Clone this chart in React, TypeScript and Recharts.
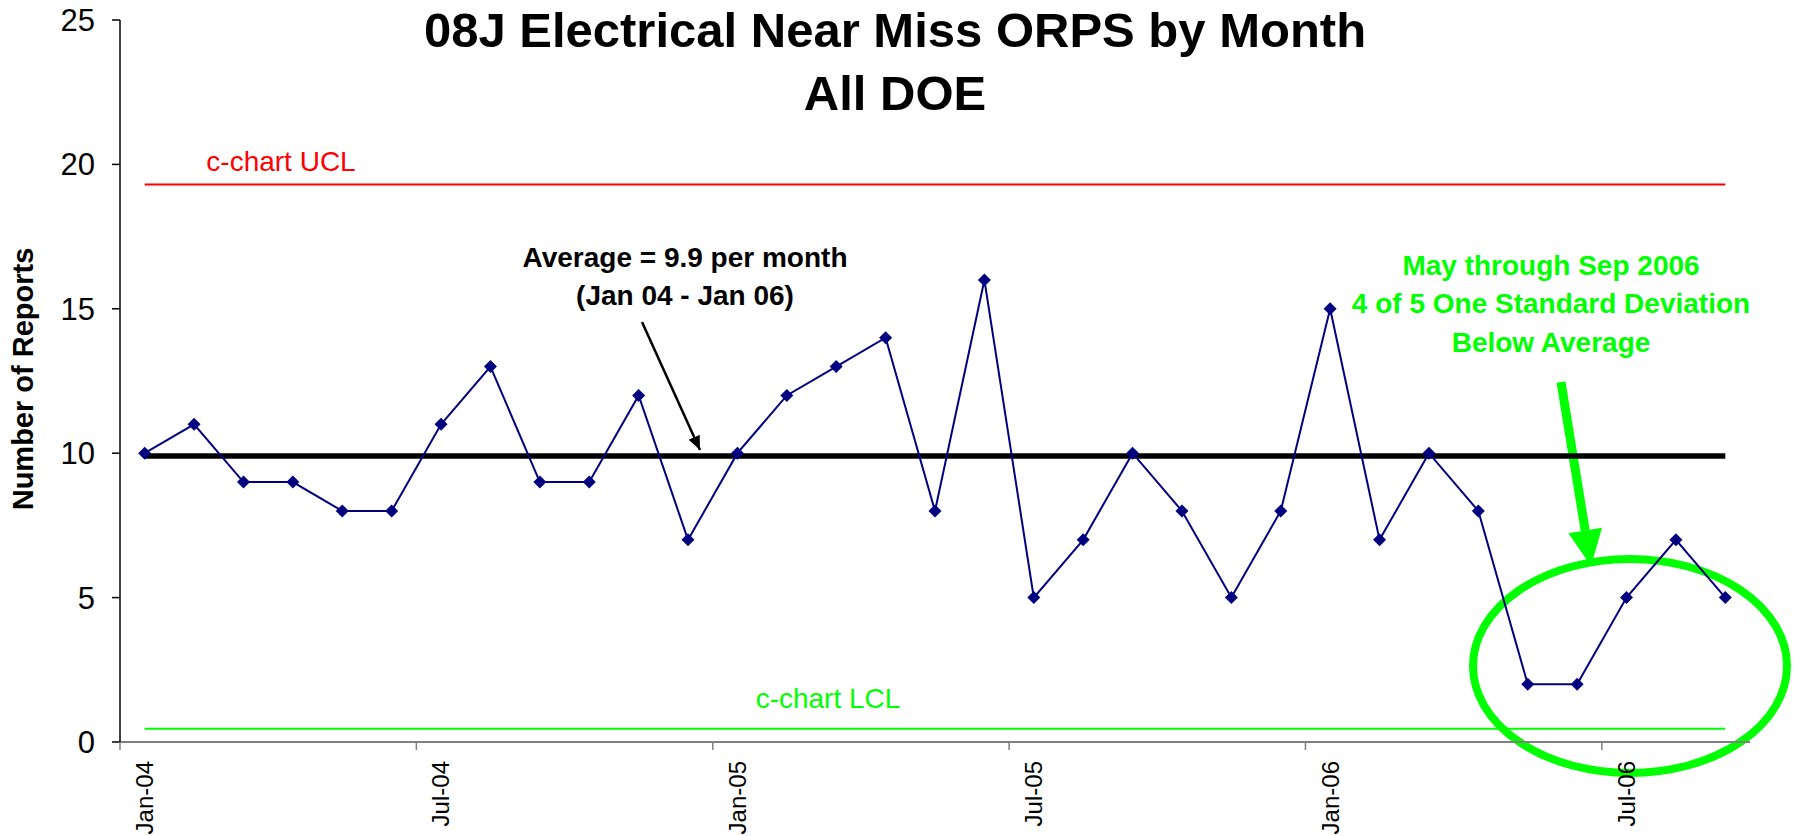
import React from "react";
import { ComposedChart, Line, XAxis, YAxis, Customized } from "recharts";

const months = [
  "Jan-04", "Feb-04", "Mar-04", "Apr-04", "May-04", "Jun-04",
  "Jul-04", "Aug-04", "Sep-04", "Oct-04", "Nov-04", "Dec-04",
  "Jan-05", "Feb-05", "Mar-05", "Apr-05", "May-05", "Jun-05",
  "Jul-05", "Aug-05", "Sep-05", "Oct-05", "Nov-05", "Dec-05",
  "Jan-06", "Feb-06", "Mar-06", "Apr-06", "May-06", "Jun-06",
  "Jul-06", "Aug-06", "Sep-06",
];
const reports = [
  10, 11, 9, 9, 8, 8, 11, 13, 9, 9, 12, 7,
  10, 12, 13, 14, 8, 16, 5, 7, 10, 8, 5, 8,
  15, 7, 10, 8, 2, 2, 5, 7, 5,
];
const ucl = 19.3;
const average = 9.9;
const lcl = 0.46;
const yTicks = [0, 5, 10, 15, 20, 25];

const data = months.map((month, i) => ({ month, reports: reports[i], ucl, average, lcl }));

const FONT = '"Liberation Sans", Arial, sans-serif';
const GREEN = "#00FF00";
const BAND = (1750 - 120) / months.length;

const MonthTick = (props: any) => {
  const { x, y, payload } = props;
  const left = x - BAND / 2;
  return (
    <g>
      <line x1={left} x2={left} y1={y - 19} y2={y - 11} stroke="#808080" strokeWidth={1.5} />
      <text
        x={x}
        y={y}
        transform={`rotate(-90, ${x}, ${y})`}
        textAnchor="end"
        dy="0.35em"
        fontSize={24}
        fontFamily={FONT}
        fill="#000"
      >
        {payload.value}
      </text>
    </g>
  );
};

const Diamond = (props: any) => {
  const { cx, cy, index } = props;
  if (cx == null || cy == null) return <g key={`d-${index}`} />;
  const r = 6.5;
  return (
    <polygon
      key={`d-${index}`}
      points={`${cx},${cy - r} ${cx + r},${cy} ${cx},${cy + r} ${cx - r},${cy}`}
      fill="#000080"
    />
  );
};

// green block arrow pointing into the ellipse
const greenArrow = () => {
  const x1 = 1561, y1 = 382, x2 = 1591, y2 = 566;
  const len = Math.hypot(x2 - x1, y2 - y1);
  const ux = (x2 - x1) / len, uy = (y2 - y1) / len;
  const nx = -uy, ny = ux;
  const head = 36, half = 17;
  const bx = x2 - head * ux, by = y2 - head * uy;
  return (
    <g>
      <line x1={x1} y1={y1} x2={bx} y2={by} stroke={GREEN} strokeWidth={9} />
      <polygon
        points={`${x2},${y2} ${bx + half * nx},${by + half * ny} ${bx - half * nx},${by - half * ny}`}
        fill={GREEN}
      />
    </g>
  );
};

const Annotations = () => (
  <g fontFamily={FONT}>
    <defs>
      <marker id="blackHead" markerUnits="userSpaceOnUse" markerWidth={14} markerHeight={12} refX={14} refY={6} orient="auto">
        <path d="M0,0 L14,6 L0,12 z" fill="#000" />
      </marker>
    </defs>

    <text x={895} y={47} textAnchor="middle" fontSize={49} fontWeight="bold" fill="#000">
      08J Electrical Near Miss ORPS by Month
    </text>
    <text x={895} y={110} textAnchor="middle" fontSize={49} fontWeight="bold" fill="#000">
      All DOE
    </text>

    <text x={33} y={379} transform="rotate(-90, 33, 379)" textAnchor="middle" fontSize={29} fontWeight="bold" fill="#000">
      Number of Reports
    </text>

    <text x={281} y={171} textAnchor="middle" fontSize={28} fill="#FF0000">c-chart UCL</text>
    <text x={828} y={708} textAnchor="middle" fontSize={28} fill={GREEN}>c-chart LCL</text>

    <text x={685} y={267} textAnchor="middle" fontSize={28} fontWeight="bold" fill="#000">
      Average = 9.9 per month
    </text>
    <text x={685} y={305} textAnchor="middle" fontSize={28} fontWeight="bold" fill="#000">
      (Jan 04 - Jan 06)
    </text>
    <line x1={642} y1={322} x2={700} y2={450} stroke="#000" strokeWidth={2.5} markerEnd="url(#blackHead)" />

    <text x={1551} y={275} textAnchor="middle" fontSize={28} fontWeight="bold" fill={GREEN}>
      May through Sep 2006
    </text>
    <text x={1551} y={313} textAnchor="middle" fontSize={28} fontWeight="bold" fill={GREEN}>
      4 of 5 One Standard Deviation
    </text>
    <text x={1551} y={352} textAnchor="middle" fontSize={28} fontWeight="bold" fill={GREEN}>
      Below Average
    </text>
    {greenArrow()}
    <ellipse cx={1630} cy={666} rx={157} ry={107} fill="none" stroke={GREEN} strokeWidth={8} />
  </g>
);

export default function App() {
  return (
    <div style={{ position: "absolute", left: 0, top: 0, width: 1797, height: 836, background: "#fff" }}>
      <ComposedChart width={1797} height={836} data={data} margin={{ top: 20, right: 47, bottom: 0, left: 0 }}>
        <XAxis
          dataKey="month"
          scale="band"
          interval={5}
          height={94}
          tickLine={false}
          tickSize={8}
          tickMargin={11}
          axisLine={{ stroke: "#808080", strokeWidth: 2 }}
          tick={<MonthTick />}
        />
        <YAxis
          width={120}
          domain={[0, 25]}
          ticks={yTicks}
          interval={0}
          tickSize={8}
          tickMargin={17}
          axisLine={{ stroke: "#000", strokeWidth: 1.5 }}
          tickLine={{ stroke: "#000", strokeWidth: 1.5 }}
          tick={{ fontSize: 31, fill: "#000", fontFamily: FONT }}
        />
        <Line dataKey="ucl" stroke="#FF0000" strokeWidth={2} dot={false} activeDot={false} isAnimationActive={false} />
        <Line dataKey="lcl" stroke={GREEN} strokeWidth={2} dot={false} activeDot={false} isAnimationActive={false} />
        <Line dataKey="average" stroke="#000" strokeWidth={5.5} dot={false} activeDot={false} isAnimationActive={false} />
        <Line
          dataKey="reports"
          stroke="#000080"
          strokeWidth={2}
          dot={Diamond}
          activeDot={false}
          isAnimationActive={false}
        />
        <Customized component={Annotations} />
      </ComposedChart>
    </div>
  );
}
